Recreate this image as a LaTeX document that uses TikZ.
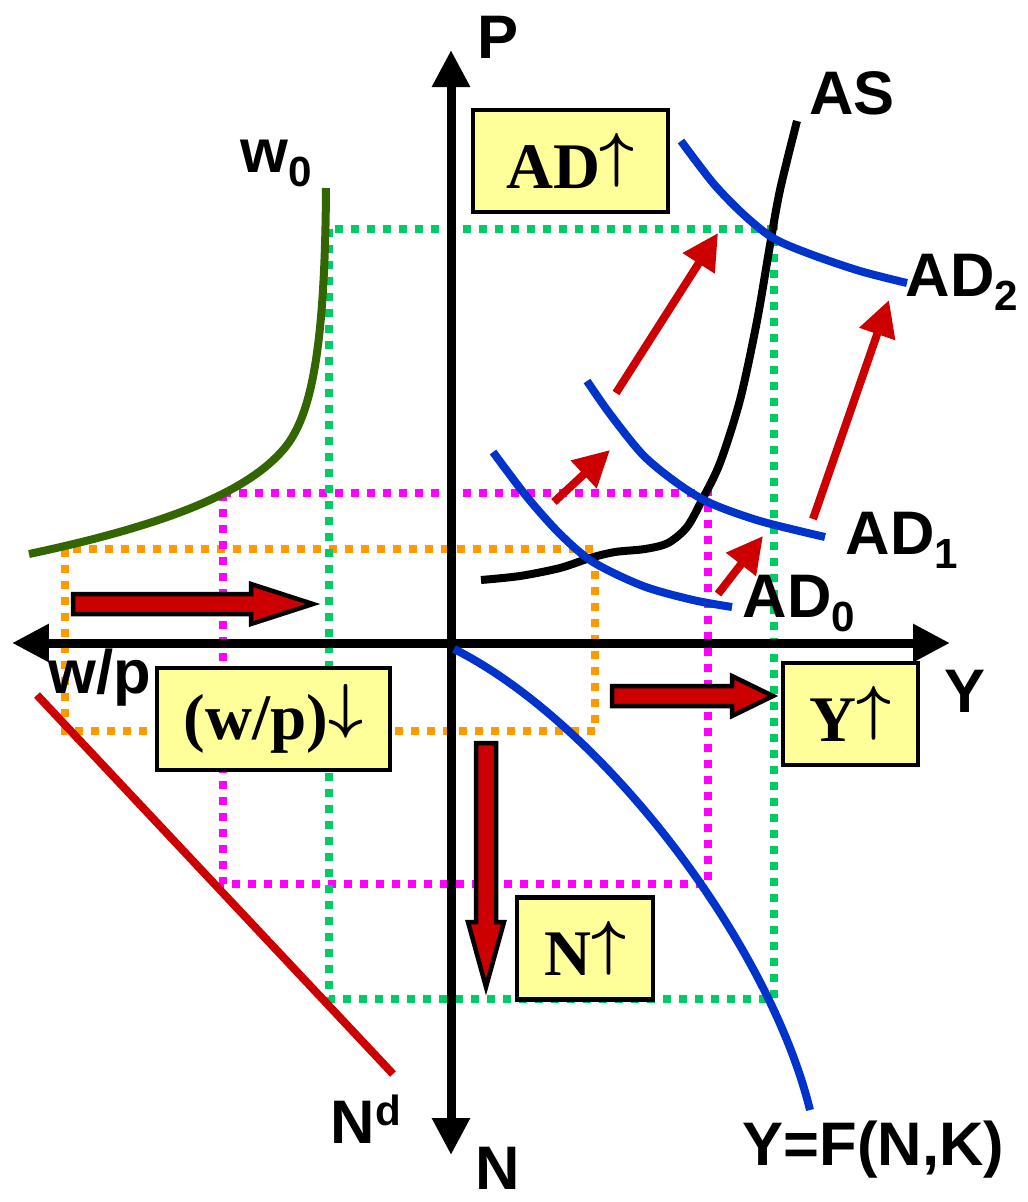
\documentclass[tikz,border=0pt]{standalone}
\usepackage{fontspec}
\setmainfont{Liberation Serif}
\setsansfont{Liberation Sans}
\usetikzlibrary{arrows.meta}

\definecolor{curveblue}{HTML}{0033CC}
\definecolor{wagegreen}{HTML}{336600}
\definecolor{shiftred}{HTML}{CC0000}
\definecolor{dotgreen}{HTML}{00CC66}
\definecolor{dotmagenta}{HTML}{FF00FF}
\definecolor{dotorange}{HTML}{FF9900}
\definecolor{boxyellow}{HTML}{FFFF99}

\newcommand{\subtxt}[1]{\raisebox{-4pt}{\fontsize{12}{12}\selectfont #1}}
\newcommand{\suptxt}[1]{\raisebox{5pt}{\fontsize{12}{12}\selectfont #1}}
\newcommand{\tagup}{\raisebox{0.194em}{\boldmath$\uparrow$}}
\newcommand{\tagdown}{\raisebox{0.194em}{\boldmath$\downarrow$}}

\begin{document}
\begin{tikzpicture}[x=0.1mm, y=-0.1mm,
                    axis/.style={line width=0.9mm, {Triangle[length=3.7mm,width=3.6mm]}-{Triangle[length=3.7mm,width=3.6mm]}},
                    curve/.style={line width=0.8mm},
                    guide/.style={line width=0.8mm, dash pattern=on 0.8mm off 0.8mm},
                    adshift/.style={shiftred, line width=0.8mm, -{Triangle[length=3.6mm,width=3.6mm]}},
                    fatarrow/.style={draw=black, fill=shiftred, line width=0.45mm, line join=miter},
                    lbl/.style={font=\sffamily\bfseries\fontsize{17.5}{20}\selectfont, inner sep=0pt},
                    tag/.style={draw, line width=0.45mm, fill=boxyellow, inner sep=0pt, minimum height=10.2mm,
                                font=\rmfamily\bfseries\fontsize{18.5}{22}\selectfont}
                ]
                \useasboundingbox (0,0) rectangle (1028,1202);
                % guide lines
                \draw[guide, dotorange] (65,549) rectangle (595,731);
                \draw[guide, dotmagenta] (223,493) rectangle (708,884);
                \draw[guide, dotgreen] (329,229) rectangle (774,999);
                % axes
                \coordinate (Ptip) at (451,50);
                \coordinate (Ntip) at (451,1155);
                \coordinate (Wtip) at (12,643);
                \coordinate (Ytip) at (950,643);
                \draw[axis] (Ntip) -- (Ptip);
                \draw[axis] (Wtip) -- (Ytip);
                % curves
                \draw[curve, wagegreen] (326,188) .. controls (325,360) and (309,420) .. (283,450)
                                                  .. controls (250,488) and (180,522) .. (29,554);
                \draw[curve, black] plot[smooth] coordinates {(481,580) (520,576) (560,568) (590,558) (615,552) (645,549) (668,543) (687,527) (702,500) (720,463) (740,400) (757,321) (770,245) (780,190) (797,121)};
                \draw[curve, curveblue] plot[smooth] coordinates {(493,452) (527,497) (560,534) (593,562) (643,586) (693,600) (732,607)};
                \draw[curve, curveblue] plot[smooth] coordinates {(587,381) (610,414) (643,455) (677,483) (710,503) (760,521) (825,537)};
                \draw[curve, curveblue] plot[smooth] coordinates {(681,141) (713,183) (743,214) (773,238) (810,254) (860,271) (907,283)};
                \draw[curve, curveblue] (454,649) .. controls (600,722) and (768,940) .. (810,1110);
                \draw[curve, shiftred] (37,695) -- (393,1074);
                % shifts of AD
                \draw[adshift] (554,502) -- (610,450);
                \draw[adshift] (616,393) -- (718,233);
                \draw[adshift] (718,594) -- (763,536);
                \draw[adshift] (813,519) -- (889,300);
                % block arrows
                \draw[fatarrow] (73,594) -- (251,594) -- (251,584) -- (313,604) -- (251,624) -- (251,614) -- (73,614) -- cycle;
                \draw[fatarrow] (612,686) -- (732,686) -- (732,676) -- (773,696) -- (732,716) -- (732,706) -- (612,706) -- cycle;
                \draw[fatarrow] (476,743) -- (496,743) -- (496,922) -- (504,922) -- (486,987) -- (468,922) -- (476,922) -- cycle;
                % boxes
                \node[tag, minimum width=19.5mm] (ADup) at (570.5,161) {AD\tagup};
                \node[tag, minimum width=23.3mm] (WPdown) at (273.5,719) {(w/p)\tagdown};
                \node[tag, minimum width=13.5mm] (Yup) at (850.5,714) {Y\tagup};
                \node[tag, minimum width=13.6mm] (Nup) at (585,948.5) {N\tagup};
                % labels
                \node[lbl] (P) at (498,37) {P};
                \node[lbl] (AS) at (852,93) {AS};
                \node[lbl, anchor=base west] (w0) at (240,172) {w\subtxt{0}};
                \node[lbl, anchor=base west] (AD2) at (905,296) {AD\subtxt{2}};
                \node[lbl, anchor=base west] (AD1) at (845,554) {AD\subtxt{1}};
                \node[lbl, anchor=base west] (AD0) at (742,617) {AD\subtxt{0}};
                \node[lbl] (Ylab) at (965,691) {Y};
                \node[lbl] (Nlab) at (498,1168) {N};
                \node[lbl, anchor=base west] (wp) at (48,693) {w/p};
                \node[lbl, anchor=base west] (Nd) at (330,1143) {N\suptxt{d}};
                \node[lbl, anchor=base west] (prod) at (742,1165) {Y=F(N,K)};
\end{tikzpicture}
\end{document}
